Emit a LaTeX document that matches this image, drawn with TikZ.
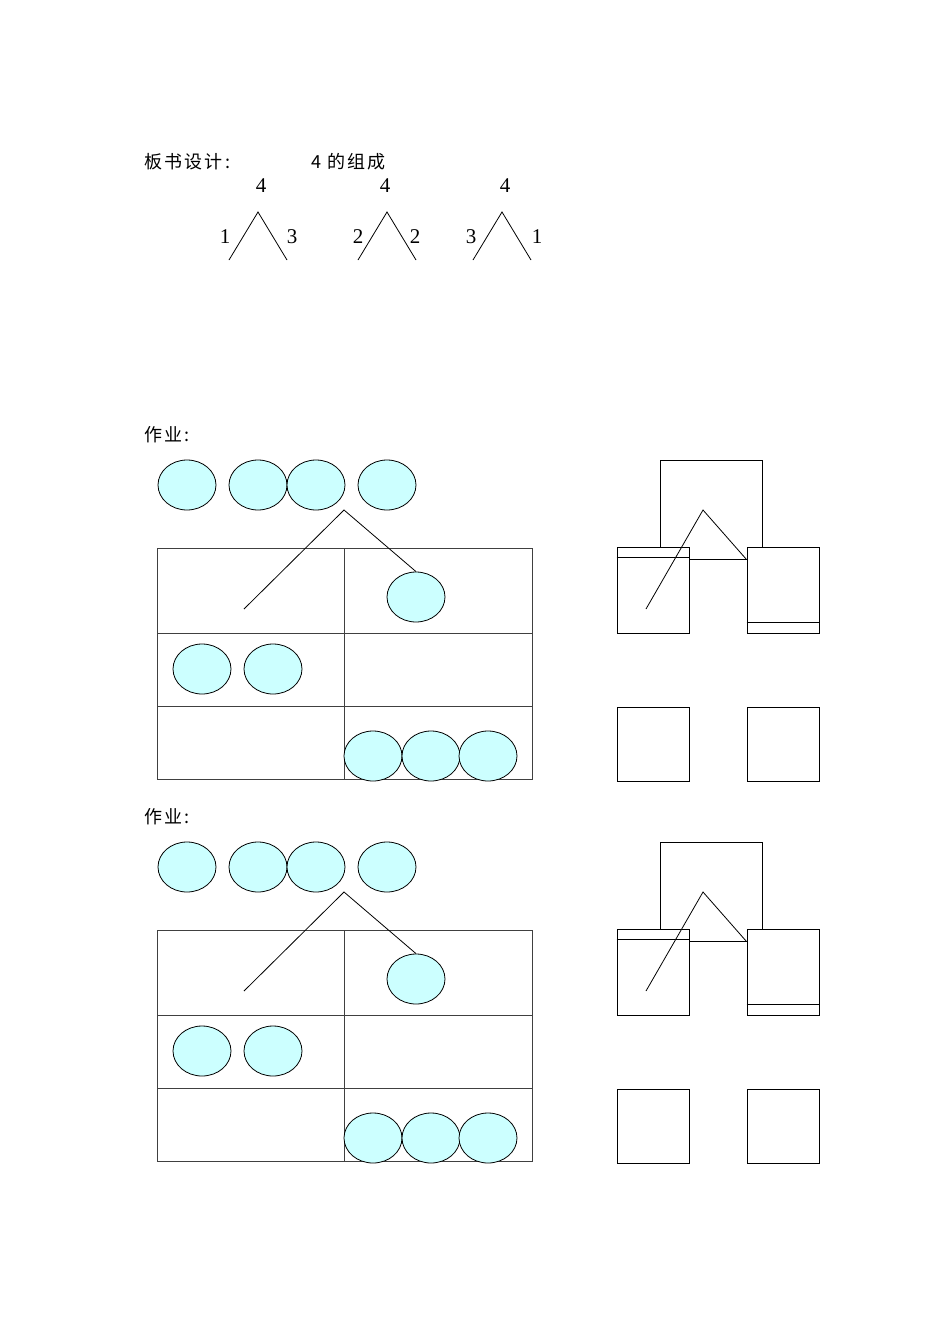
\documentclass[tikz,border=0pt]{standalone}
\usepackage{fontspec}
\setmainfont{Liberation Serif}
\newfontfamily\cjk[LetterSpace=12]{Noto Sans CJK SC}
\usepackage{tikz}
\usetikzlibrary{shapes.geometric,positioning}
\definecolor{ballcyan}{HTML}{CCFFFF}
\tikzset{
  ball/.style={draw,ellipse,fill=ballcyan,minimum width=58pt,minimum height=50pt,inner sep=0pt},
  hanzi/.style={font=\cjk\fontsize{18}{18}\selectfont,inner sep=0pt,anchor=west},
  num/.style={font=\fontsize{21}{21}\selectfont,inner sep=0pt},
  cell/.style={draw=black!75},
  box/.style={draw,minimum width=72pt,minimum height=86pt,inner sep=0pt},
  sqbox/.style={draw,minimum width=72pt,minimum height=74pt,inner sep=0pt},
}

\begin{document}
\begin{tikzpicture}[x=1pt,y=-1pt,line width=0.8pt]
  \useasboundingbox (0,0) rectangle (950,1344);
  \node[hanzi] (title) at (144,162) {板书设计:};
  \node[hanzi] (topic) at (311,162) {4 的组成};
  \foreach \cx/\tx/\l/\lx/\r/\rx [count=\i] in {258/261/1/225/3/292,387/385/2/358/2/415,502/505/3/471/1/537} {
    \node[num] (whole\i) at (\tx,186) {4};
    \coordinate (apex\i) at (\cx,212);
    \coordinate (lft\i) at (\cx-29,260);
    \coordinate (rgt\i) at (\cx+29,260);
    \draw (lft\i) -- (apex\i) -- (rgt\i);
    \node[num] (pl\i) at (\lx,237) {\l};
    \node[num] (pr\i) at (\rx,237) {\r};
  }
  \foreach \dy/\k in {0/a,382/b} {
    \begin{scope}[shift={(0,\dy)}]
      \node[hanzi] (hw\k) at (144,435) {作业:};
      \foreach \x [count=\i] in {187,258,316,387} {
        \node[ball] (row\k\i) at (\x,485) {};
      }
      % table
      \draw[cell] (157,548) rectangle (532,779);
      \draw[cell] (157,633) -- (532,633);
      \draw[cell] (157,706) -- (532,706);
      \draw[cell] (344,548) -- (344,779);
      \node[ball] (one\k) at (416,597) {};
      \coordinate (fork\k) at (344,510);
      \coordinate (rest\k) at (244,609);
      \draw (rest\k) -- (fork\k) -- (one\k.north);
      \foreach \x [count=\i] in {202,273} {
        \node[ball] (two\k\i) at (\x,669) {};
      }
      \foreach \x [count=\i] in {373,431,488} {
        \node[ball] (three\k\i) at (\x,756) {};
      }
      % boxes on the right
      \draw (660,547) -- (660,460) -- (762,460) -- (762,547);
      \node[box] (lbox\k) at (653,590) {};
      \node[box] (rbox\k) at (783,590) {};
      \draw ([yshift=-11pt]lbox\k.north west) -- ([yshift=-11pt]lbox\k.north east);
      \draw ([yshift=11pt]rbox\k.south west) -- ([yshift=11pt]rbox\k.south east);
      \draw ([yshift=-13pt]lbox\k.north east) -- ([yshift=-13pt]rbox\k.north west);
      \coordinate (peak\k) at (703,510);
      \coordinate (pleft\k) at (646,609);
      \draw (pleft\k) -- (peak\k) -- ([yshift=-13pt]rbox\k.north west);
      \node[sqbox] (lsq\k) at (653,744) {};
      \node[sqbox] (rsq\k) at (783,744) {};
    \end{scope}
  }
\end{tikzpicture}
\end{document}
